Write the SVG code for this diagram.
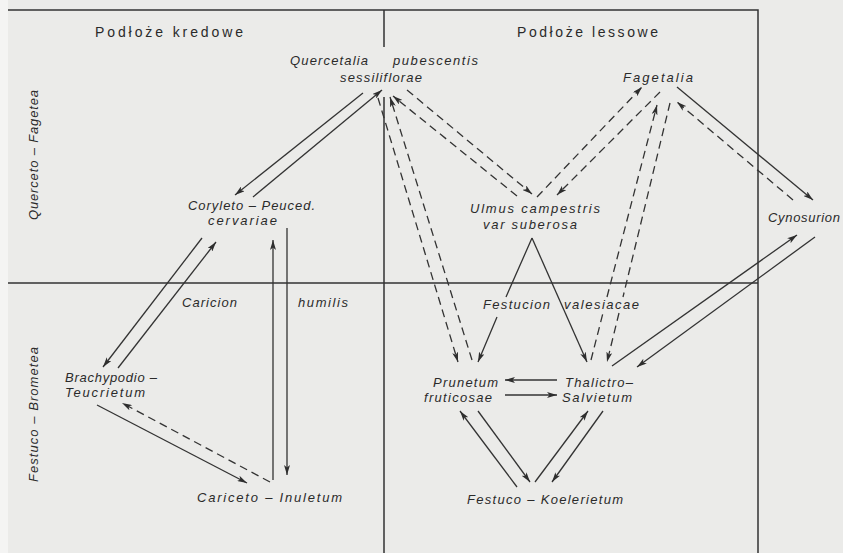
<svg xmlns="http://www.w3.org/2000/svg" width="843" height="553" viewBox="0 0 843 553">
<defs>
<marker id="ah" viewBox="0 0 10 6" refX="10" refY="3" markerWidth="10" markerHeight="6" markerUnits="userSpaceOnUse" orient="auto"><path d="M0,0 L10,3 L0,6 L2.5,3 z" fill="#2e2e2e"/></marker>
<style>
text{font-family:"Liberation Sans","DejaVu Sans",Arial,sans-serif;fill:#2a2a2a}
.h{font-size:14px}
.l{font-size:13px;font-style:italic}
.frame{stroke:#333;stroke-width:1.5;fill:none}
.c{stroke:#333;stroke-width:1.3;fill:none;marker-end:url(#ah)}
.d{stroke-dasharray:8 5}
</style>
</defs>
<rect width="843" height="553" fill="#ebebe9"/>
<rect width="8" height="553" fill="#f4f4f3"/>
<g id="frame">
<path class="frame" d="M8,10 H758 V553 M384,10 V47 M384,97 V553 M8,283 H758"/>
</g>
<g id="header-kredowe"><text class="h" x="95" y="37" textLength="148" lengthAdjust="spacing">Podłoże kredowe</text></g>
<g id="header-lessowe"><text class="h" x="517" y="37" textLength="141" lengthAdjust="spacing">Podłoże lessowe</text></g>
<g id="class-querceto-fagetea"><text class="l" transform="translate(38,220) rotate(-90)" textLength="130" lengthAdjust="spacing">Querceto – Fagetea</text></g>
<g id="class-festuco-brometea"><text class="l" transform="translate(38,482) rotate(-90)" textLength="135" lengthAdjust="spacing">Festuco – Brometea</text></g>
<g id="quercetalia">
<text class="l" x="290" y="65" textLength="78" lengthAdjust="spacing">Quercetalia</text>
<text class="l" x="393" y="65" textLength="85" lengthAdjust="spacing">pubescentis</text>
<text class="l" x="340" y="82" textLength="82" lengthAdjust="spacing">sessiliflorae</text>
</g>
<g id="fagetalia"><text class="l" x="623" y="82" textLength="70" lengthAdjust="spacing">Fagetalia</text></g>
<g id="coryleto">
<text class="l" x="188" y="210" textLength="127" lengthAdjust="spacing">Coryleto – Peuced.</text>
<text class="l" x="208" y="225" textLength="69" lengthAdjust="spacing">cervariae</text>
</g>
<g id="ulmus">
<text class="l" x="470" y="213" textLength="130" lengthAdjust="spacing">Ulmus campestris</text>
<text class="l" x="483" y="229" textLength="94" lengthAdjust="spacing">var suberosa</text>
</g>
<g id="cynosurion"><text class="l" x="768" y="222" textLength="72" lengthAdjust="spacing">Cynosurion</text></g>
<g id="caricion">
<text class="l" x="182" y="307" textLength="55" lengthAdjust="spacing">Caricion</text>
<text class="l" x="298" y="307" textLength="50" lengthAdjust="spacing">humilis</text>
</g>
<g id="festucion">
<text class="l" x="483" y="309" textLength="67" lengthAdjust="spacing">Festucion</text>
<text class="l" x="564" y="309" textLength="75" lengthAdjust="spacing">valesiacae</text>
</g>
<g id="brachypodio">
<text class="l" x="65" y="382" textLength="92" lengthAdjust="spacing">Brachypodio –</text>
<text class="l" x="65" y="397" textLength="80" lengthAdjust="spacing">Teucrietum</text>
</g>
<g id="prunetum">
<text class="l" x="433" y="387" textLength="65" lengthAdjust="spacing">Prunetum</text>
<text class="l" x="424" y="402" textLength="68" lengthAdjust="spacing">fruticosae</text>
</g>
<g id="thalictro">
<text class="l" x="565" y="387" textLength="68" lengthAdjust="spacing">Thalictro–</text>
<text class="l" x="562" y="402" textLength="70" lengthAdjust="spacing">Salvietum</text>
</g>
<g id="cariceto"><text class="l" x="197" y="502" textLength="145" lengthAdjust="spacing">Cariceto – Inuletum</text></g>
<g id="festuco-koelerietum"><text class="l" x="467" y="504" textLength="156" lengthAdjust="spacing">Festuco – Koelerietum</text></g>
<g id="connectors">
<path class="c" d="M363,93 L235,195"/>
<path class="c" d="M253,197 L382,90"/>
<path class="c" d="M202,238 L103,367"/>
<path class="c" d="M118,368 L216,242"/>
<path class="c" d="M273,480 L273,240"/>
<path class="c" d="M287,228 L287,475"/>
<path class="c" d="M97,405 L247,483"/>
<path class="c d" d="M270,482 L122,403"/>
<path class="c" d="M532,238 L506,297 M497,317 L478,362"/>
<path class="c" d="M532,238 L587,362"/>
<path class="c" d="M677,87 L813,200"/>
<path class="c" d="M612,366 L797,235"/>
<path class="c" d="M815,237 L637,367"/>
<path class="c" d="M557,380 L505,380"/>
<path class="c" d="M505,395 L557,395"/>
<path class="c" d="M517,487 L460,411"/>
<path class="c" d="M478,411 L530,482"/>
<path class="c" d="M535,482 L588,411"/>
<path class="c" d="M603,411 L552,482"/>
<path class="c d" d="M378,98 L458,362"/>
<path class="c d" d="M472,360 L390,97"/>
<path class="c d" d="M407,90 L532,194"/>
<path class="c d" d="M517,196 L393,96"/>
<path class="c d" d="M537,197 L642,87"/>
<path class="c d" d="M660,92 L557,195"/>
<path class="c d" d="M591,360 L603,313 M607,297 L657,105"/>
<path class="c d" d="M670,103 L623,297 M619,313 L607,362"/>
<path class="c d" d="M793,200 L677,102"/>
</g>
</svg>
